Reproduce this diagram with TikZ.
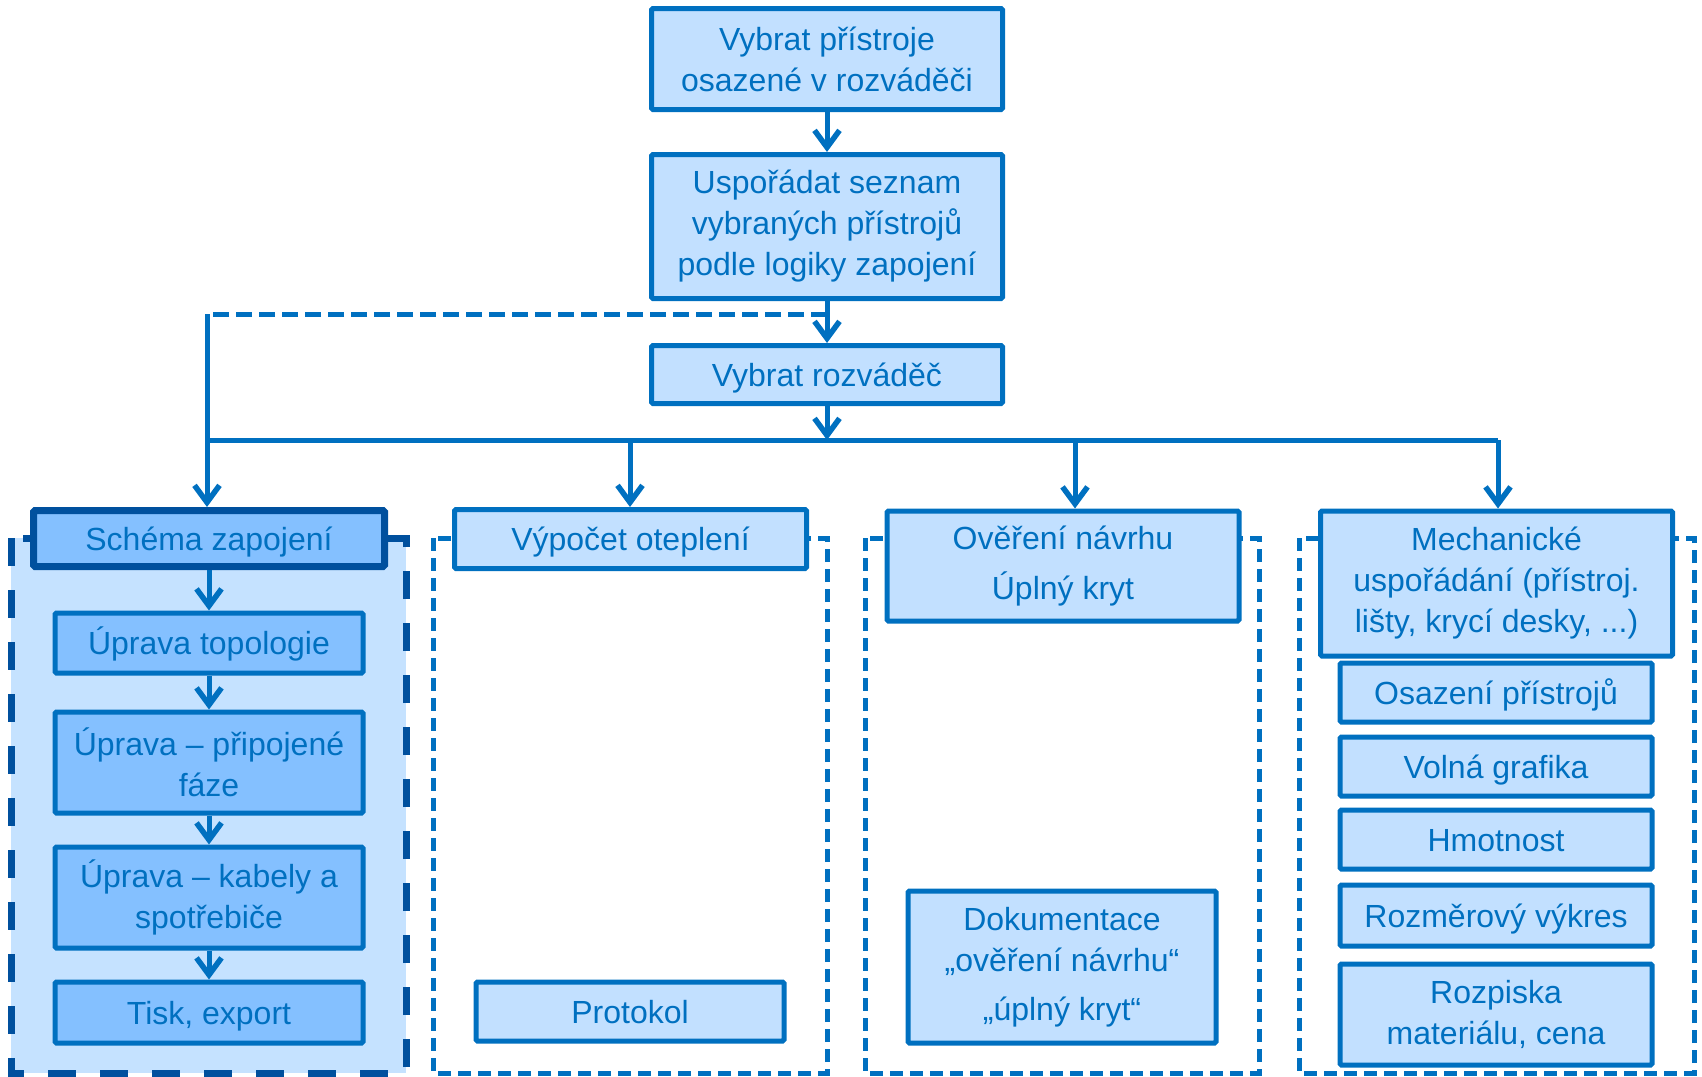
\documentclass[tikz,border=0pt]{standalone}
\usepackage{fontspec}
\setmainfont{Liberation Sans}
\usetikzlibrary{arrows.meta}
\definecolor{cblue}{RGB}{0,112,192}
\definecolor{cdark}{RGB}{0,80,158}
\definecolor{cfill}{RGB}{194,224,255}
\definecolor{cmid}{RGB}{132,192,255}
\definecolor{cpanel}{RGB}{197,226,255}
\begin{document}
\begin{tikzpicture}[x=1pt,y=-1pt,
  box/.style={draw=cblue, fill=cfill, line width=5pt, rounded corners=1.5pt, text=cblue,
    align=center, inner sep=0pt, font=\fontsize{32}{41}\selectfont},
  one/.style={text height=26pt, text depth=3pt},
  midbox/.style={box, fill=cmid},
  darkbox/.style={box, fill=cmid, draw=cdark, line width=7pt},
  conn/.style={draw=cblue, line width=5pt},
  arr/.style={conn, -{Straight Barb[length=17pt,width=25pt,line width=5.5pt]}},
  dconn/.style={conn, dash pattern=on 16pt off 7pt},
  panelA/.style={draw=cdark, fill=cpanel, line width=7pt, dash pattern=on 28pt off 24pt},
  panelB/.style={draw=cblue, line width=5pt, dash pattern=on 13pt off 7pt}]
\useasboundingbox (0,0) rectangle (1702,1076);
% panels
\path[panelA] (11,538) rectangle (406,1073);
\path[panelB] (433,538) rectangle (827,1073);
\path[panelB] (865,538) rectangle (1259,1073);
\path[panelB] (1299,538) rectangle (1694,1073);
% main column
\node[box, minimum width=351pt, minimum height=101pt] (top) at (827,59) {Vybrat přístroje\\osazené v rozváděči};
\node[box, minimum width=351pt, minimum height=144pt] (list) at (827,226.5) {Uspořádat seznam\\vybraných přístrojů\\podle logiky zapojení};
\node[box, one, minimum width=351pt, minimum height=58pt] (rozv) at (827,374.5) {Vybrat rozváděč};
% column 1
\node[darkbox, one, minimum width=351pt, minimum height=56pt] (schema) at (209,538.5) {Schéma zapojení};
\node[midbox, one, minimum width=308pt, minimum height=60pt] (up1) at (209,643) {Úprava topologie};
\node[midbox, minimum width=308pt, minimum height=101pt] (up2) at (209,762.5) {Úprava – připojené\\fáze};
\node[midbox, minimum width=308pt, minimum height=101pt] (up3) at (209,897.5) {Úprava – kabely a\\spotřebiče};
\node[midbox, one, minimum width=308pt, minimum height=61pt] (tisk) at (209,1012.5) {Tisk, export};
% column 2
\node[box, one, minimum width=352pt, minimum height=59pt] (vyp) at (630.5,539) {Výpočet oteplení};
\node[box, one, minimum width=308pt, minimum height=59pt] (prot) at (630,1011.5) {Protokol};
% column 3
\node[box, minimum width=352pt, minimum height=110pt] (over) at (1063,566) {Ověření návrhu\\[9pt]Úplný kryt};
\node[box, minimum width=308pt, minimum height=152pt] (dok) at (1062,967) {Dokumentace\\„ověření návrhu“\\[8pt]„úplný kryt“};
% column 4
\node[box, minimum width=352pt, minimum height=145pt] (mech) at (1496.5,583.5) {Mechanické\\uspořádání (přístroj.\\lišty, krycí desky, ...)};
\node[box, one, minimum width=312pt, minimum height=59pt] (osaz) at (1496,692.5) {Osazení přístrojů};
\node[box, one, minimum width=312pt, minimum height=59pt] (voln) at (1496,766.5) {Volná grafika};
\node[box, one, minimum width=312pt, minimum height=59pt] (hmot) at (1496,839.5) {Hmotnost};
\node[box, one, minimum width=312pt, minimum height=61pt] (rozm) at (1496,915.5) {Rozměrový výkres};
\node[box, minimum width=312pt, minimum height=101pt] (rozp) at (1496,1014.5) {Rozpiska\\materiálu, cena};
% connectors
\coordinate (dj) at (827,314);
\coordinate (lj) at (207,314);
\coordinate (busL) at (207,440);
\coordinate (busM) at (827,440);
\coordinate (busR) at (1498,440);
\coordinate (b2) at (630,440);
\coordinate (b3) at (1075,440);
\draw[dconn] (dj) -- (lj);
\draw[arr] (top) -- (list);
\draw[arr] (list) -- (rozv);
\draw[arr] (rozv) -- (busM);
\draw[conn] (busL) -- (busR);
\draw[arr] (lj) -- (lj |- schema.north);
\draw[arr] (b2) -- (b2 |- vyp.north);
\draw[arr] (b3) -- (b3 |- over.north);
\draw[arr] (busR) -- (busR |- mech.north);
\draw[arr] (schema) -- (up1);
\draw[arr] (up1) -- (up2);
\draw[arr] (up2) -- (up3);
\draw[arr] (up3) -- (tisk);
\end{tikzpicture}
\end{document}
